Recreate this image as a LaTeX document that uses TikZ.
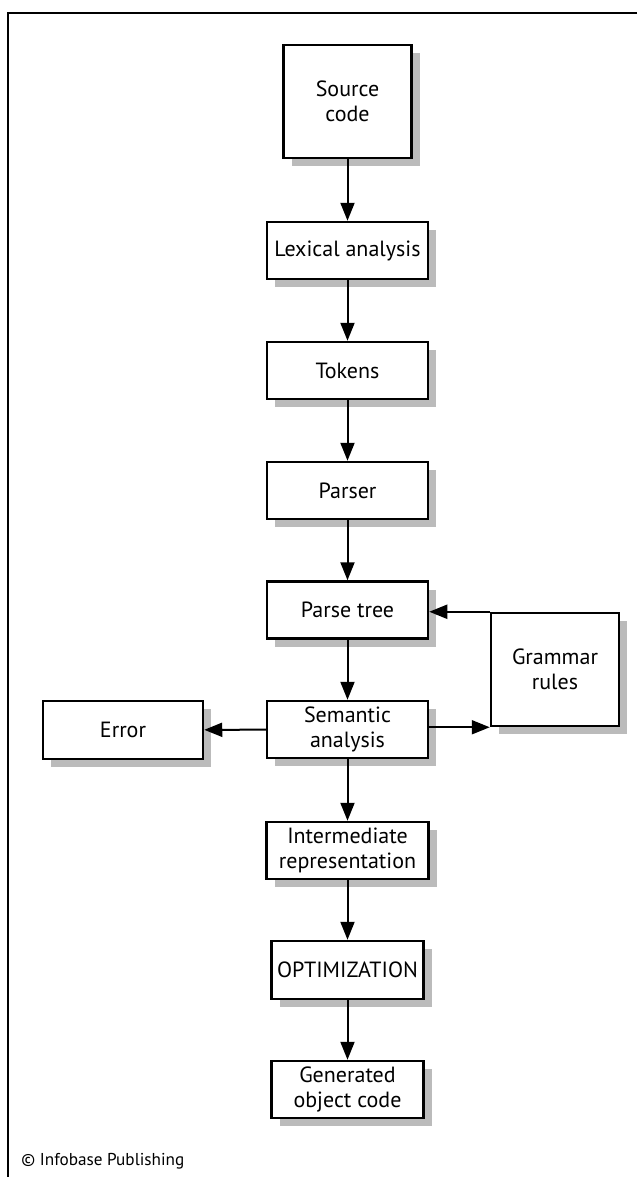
\documentclass[tikz,border=0pt]{standalone}
\usepackage{fontspec}
\setmainfont{PT Sans}
\usetikzlibrary{arrows.meta,shadows,calc}
\definecolor{ShadowGrey}{HTML}{BBBBBB}
\tikzset{
    block/.style = {draw, rectangle, fill=white, line width=1.25pt,
        align=center, inner sep=2pt,
        font=\fontsize{11}{12.5}\selectfont,
        drop shadow={shadow xshift=4pt, shadow yshift=-4pt,
            fill=ShadowGrey, opacity=1},
        minimum height=28.5pt,
        minimum width=80.5pt},
    bigblock/.style = {block, minimum height=56.5pt, minimum width=64pt},
    arrow/.style={draw, line width=1pt, -{Triangle[length=9pt,width=7pt]}}
}

\begin{document}
\begin{tikzpicture}[x=0.5pt,y=-0.5pt]
            \useasboundingbox (0,0) rectangle (637,1177);
            % frame
            \draw[line width=0.6pt] (637,13) -- (8,13) -- (8,1177);
            \node[anchor=base west,inner sep=0pt,font=\fontsize{8.6}{10}\selectfont] (copy) at (21,1165) {© Infobase Publishing};
            % main column
            \node[bigblock] (src) at (347.5,101.5) {Source\\code};
            \node[block] (lex) at (347.5,250.5) {Lexical analysis};
            \node[block] (tok) at (347.5,370.5) {Tokens};
            \node[block] (par) at (347.5,490.5) {Parser};
            \node[block] (ptree) at (347.5,610) {Parse tree};
            \node[block] (sem) at (347.5,729.5) {Semantic\\analysis};
            \node[block, minimum width=80pt, minimum height=29pt] (err) at (123,730) {Error};
            \node[bigblock] (gram) at (555,669.5) {Grammar\\rules};
            \node[block, minimum width=81pt] (inter) at (347.5,850.5) {Intermediate\\representation};
            \node[block, minimum width=76pt, minimum height=29pt] (opt) at (347.5,970) {OPTIMIZATION};
            \node[block, minimum width=76pt] (gen) at (347.5,1089.5) {Generated\\object code};
            % connectors
            \draw[arrow] (src) -- (lex);
            \draw[arrow] (lex) -- (tok);
            \draw[arrow] (tok) -- (par);
            \draw[arrow] (par) -- (ptree);
            \draw[arrow] (ptree) -- (sem);
            \draw[arrow] (sem) -- (err);
            \draw[arrow] (sem.east |- gram.south west) -- (gram.south west);
            \draw[arrow] (gram.north west) -- (gram.north west -| ptree.east);
            \draw[arrow] (sem) -- (inter);
            \draw[arrow] (inter) -- (opt);
            \draw[arrow] (opt) -- (gen);
\end{tikzpicture}
\end{document}
